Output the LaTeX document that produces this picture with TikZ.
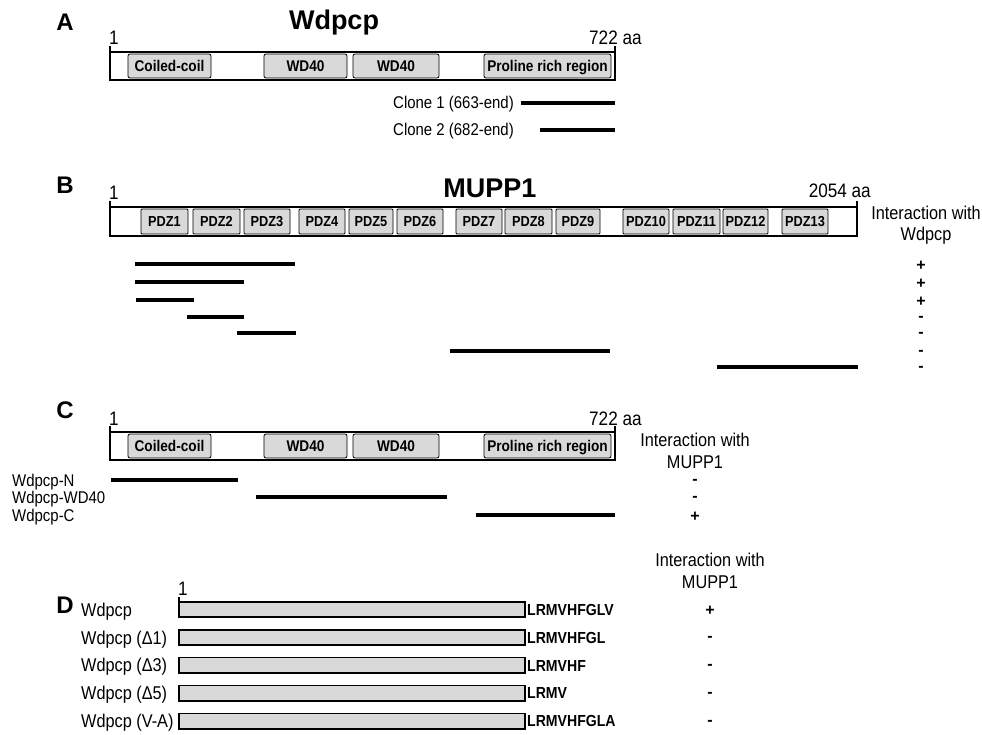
\documentclass[tikz,border=0pt]{standalone}
\usepackage{fontspec}
\setmainfont{Liberation Sans}
\newfontfamily\nar[FakeStretch=0.88]{Liberation Sans}
\usepackage{xcolor}
\usetikzlibrary{positioning}

\newcommand{\fsz}[1]{\fontsize{#1}{#1}\selectfont}
\definecolor{domgray}{RGB}{217,217,217}

\begin{document}
\begin{tikzpicture}[x=1pt,y=-1pt,
    prot/.style={draw,line width=1.6pt},
    dom/.style={draw,line width=0.8pt,fill=domgray,rounded corners=2pt},
    domlab/.style={anchor=base,inner sep=0pt,font=\nar\fsz{15.5}\bfseries},
    pdzlab/.style={anchor=base,inner sep=0pt,font=\nar\fsz{14.5}\bfseries},
    frag/.style={line width=3.8pt},
    lab/.style={anchor=base west,inner sep=0pt,font=\nar\fsz{17}},
    num/.style={inner sep=0pt,font=\nar\fsz{19.5}},
    inter/.style={anchor=base,inner sep=0pt,font=\nar\fsz{18.5}},
    sign/.style={inner sep=0pt,font=\fsz{16}\bfseries},
    panel/.style={anchor=base,inner sep=0pt,font=\fsz{24}\bfseries},
    title/.style={anchor=base,inner sep=0pt,font=\fsz{27}\bfseries}]
  \useasboundingbox (0,0) rectangle (982,735);

  % A and C: Wdpcp domain map
  \foreach \p/\dy in {a/0,c/380}{
    \begin{scope}[yshift=-\dy pt]
      \draw[prot] (110,52) rectangle (615,80);
      \draw[prot] (110,46) -- (110,52) (615,46) -- (615,52);
      \node[num,anchor=base west] (one\p) at (109,45) {1};
      \node[num,anchor=base west] (len\p) at (589,45) {722 aa};
      \foreach \a/\b/\t [count=\i] in {128/211/Coiled-coil,264/347/WD40,353/439/WD40,484/611/Proline rich region}{
        \draw[dom] (\a,54) rectangle (\b,78);
        \node[domlab] (\p dom\i) at ({(\a+\b)/2},71.6) {\t};
      }
    \end{scope}
  }
  \node[panel] (pA) at (65,30.5) {A};
  \node[title] (tA) at (334,29.6) {Wdpcp};
  \node[lab] (clone1) at (393,109) {Clone 1 (663-end)};
  \node[lab] (clone2) at (393,136) {Clone 2 (682-end)};
  \draw[frag] (521,103) -- (615,103);
  \draw[frag] (540,130) -- (615,130);

  % B: MUPP1
  \node[panel] (pB) at (65,193.5) {B};
  \node[title] (tB) at (490,198) {MUPP1};
  \draw[prot] (110,207) rectangle (857,236);
  \draw[prot] (110,201) -- (110,207) (857,201) -- (857,207);
  \node[num,anchor=base west] (oneb) at (109,200) {1};
  \node[num,anchor=base east] (lenb) at (871,198) {2054 aa};
  \foreach \a/\b [count=\i] in {141/188,193/240,244/290,299/345,349/393,397/443,456/502,505/552,556/600,623/669,673/720,723/768,782/828}{
    \draw[dom,rounded corners=1pt] (\a,209) rectangle (\b,234);
    \node[pdzlab] (pdz\i) at ({(\a+\b)/2},226.7) {PDZ\i};
  }
  \node[inter] (intb) at (926,219.6) {Interaction with};
  \node[inter] (intb2) at (926,241) {Wdpcp};
  \foreach \a/\b/\y/\s [count=\i] in {135/295/264/+,135/244/282/+,136/194/300/+,187/244/317/-,237/296/333/-,450/610/351/-,717/858/367/-}{
    \draw[frag] (\a,\y) -- (\b,\y);
    \node[sign] (sb\i) at (921,\y+1.5) {\s};
  }

  % C: Wdpcp fragments
  \node[panel] (pC) at (65,418.5) {C};
  \node[inter] (intc) at (695,446.6) {Interaction with};
  \node[inter] (intc2) at (695,468.6) {MUPP1};
  \foreach \t/\a/\b/\y/\s [count=\i] in {Wdpcp-N/111/238/480/-,Wdpcp-WD40/256/447/497/-,Wdpcp-C/476/615/515/+}{
    \node[lab] (fc\i) at (12,\y+6) {\t};
    \draw[frag] (\a,\y) -- (\b,\y);
    \node[sign] (sc\i) at (695,\y+1.5) {\s};
  }

  % D: C-terminal mutants
  \node[panel] (pD) at (65,613.5) {D};
  \node[inter] (intd) at (710,566.6) {Interaction with};
  \node[inter] (intd2) at (710,588.6) {MUPP1};
  \node[num,anchor=base west] (oned) at (178,595) {1};
  \draw[line width=1.2pt] (179,597) -- (179,602);
  \foreach \t/\q/\s [count=\i, evaluate=\i as \y using 609.5+27.9*(\i-1)] in {Wdpcp/LRMVHFGLV/+,Wdpcp (Δ1)/LRMVHFGL/-,Wdpcp (Δ3)/LRMVHF/-,Wdpcp (Δ5)/LRMV/-,Wdpcp (V-A)/LRMVHFGLA/-}{
    \draw[prot,fill=domgray] (179,\y-7.7) rectangle (525,\y+7.7);
    \node[lab,font=\nar\fsz{18.5}] (md\i) at (81,\y+6.6) {\t};
    \node[anchor=base west,inner sep=0pt,font=\nar\fsz{16}\bfseries] (sq\i) at (527,\y+5.7) {\q};
    \node[sign] (sd\i) at (710,\y+1.5) {\s};
  }
\end{tikzpicture}
\end{document}
